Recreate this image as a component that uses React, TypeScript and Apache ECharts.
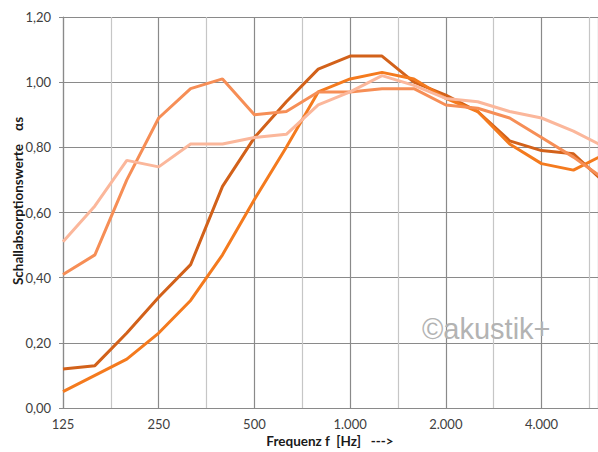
import React, { useEffect, useRef } from "react";
import * as echarts from "echarts";

const frequencies = [125, 160, 200, 250, 315, 400, 500, 630, 800, 1000, 1250, 1600, 2000, 2500, 3150, 4000, 5000, 6300];
const seriesA = [0.12, 0.13, 0.23, 0.34, 0.44, 0.68, 0.83, 0.94, 1.04, 1.08, 1.08, 1.0, 0.96, 0.91, 0.82, 0.79, 0.78, 0.69];
const seriesB = [0.05, 0.1, 0.15, 0.23, 0.33, 0.47, 0.64, 0.8, 0.97, 1.01, 1.03, 1.01, 0.95, 0.91, 0.81, 0.75, 0.73, 0.78];
const seriesC = [0.41, 0.47, 0.7, 0.89, 0.98, 1.01, 0.9, 0.91, 0.97, 0.97, 0.98, 0.98, 0.93, 0.92, 0.89, 0.83, 0.77, 0.7];
const seriesD = [0.51, 0.62, 0.76, 0.74, 0.81, 0.81, 0.83, 0.84, 0.93, 0.97, 1.02, 0.99, 0.95, 0.94, 0.91, 0.89, 0.85, 0.8];
const xTickLabels = ["125", "250", "500", "1.000", "2.000", "4.000"];
const seriesColors = ["#d2611a", "#f47a1e", "#f68e56", "#fbb79b"];

// position on axis: third-octave band index expressed in octaves above 125 Hz
const bandPos = (f: number) => Math.round(3 * Math.log2(f / 125)) / 3;

export default function App() {
  const ref = useRef<HTMLDivElement>(null);
  useEffect(() => {
    if (!ref.current) return;
    const chart = echarts.init(ref.current, undefined, { renderer: "svg" });
    const all = [seriesA, seriesB, seriesC, seriesD];
    chart.setOption({
      animation: false,
      backgroundColor: "#ffffff",
      grid: { left: 63, top: 17, right: 0, bottom: 44 },
      xAxis: {
        type: "value",
        min: 0,
        max: 5.59,
        interval: 0.5,
        axisLine: { show: true, lineStyle: { color: "#8a8a8a", width: 1.2 } },
        axisTick: { show: false },
        axisLabel: {
          margin: 9,
          fontFamily: "Lato",
          fontSize: 13,
          color: "#404040",
          showMaxLabel: false,
          formatter: (v: number) => {
            const k = Math.round(v);
            return Math.abs(v - k) < 1e-6 && xTickLabels[k] !== undefined ? xTickLabels[k] : "";
          },
        },
        splitLine: { show: true, lineStyle: { color: ["#8a8a8a", "#c6c6c6"], width: 1.2 } },
      },
      yAxis: {
        type: "value",
        min: 0,
        max: 1.2,
        interval: 0.2,
        axisLine: { show: true, lineStyle: { color: "#8a8a8a", width: 1.2 } },
        axisTick: { show: true, length: 4, lineStyle: { color: "#8a8a8a" } },
        axisLabel: {
          margin: 12,
          fontFamily: "Lato",
          fontSize: 13,
          color: "#404040",
          formatter: (v: number) => v.toFixed(2).replace(".", ","),
        },
        splitLine: { show: true, lineStyle: { color: "#8a8a8a", width: 1.2 } },
      },
      series: all.map((vals, i) => ({
        type: "line",
        data: frequencies.map((f, j) => [bandPos(f), vals[j]]),
        showSymbol: false,
        symbol: "none",
        clip: true,
        lineStyle: { color: seriesColors[i], width: 3 },
        itemStyle: { color: seriesColors[i] },
        z: 2 + i,
      })),
      graphic: [
        {
          type: "text",
          x: 18,
          y: 201,
          rotation: Math.PI / 2,
          style: {
            text: "Schallabsorptionswerte    αs",
            fontFamily: "Lato",
            fontWeight: "bold",
            fontSize: 13.5,
            fill: "#1a1a1a",
            textAlign: "center",
            textVerticalAlign: "middle",
          },
        },
        {
          type: "text",
          x: 330,
          y: 441,
          style: {
            text: "Frequenz f  [Hz]   --->",
            fontFamily: "Lato",
            fontWeight: "bold",
            fontSize: 13.5,
            fill: "#1a1a1a",
            textAlign: "center",
            textVerticalAlign: "middle",
          },
        },
        {
          type: "text",
          x: 422,
          y: 329,
          z: 10,
          style: {
            text: "©akustik+",
            fontFamily: "Liberation Sans",
            fontSize: 29,
            fill: "#b3b3b3",
            textAlign: "left",
            textVerticalAlign: "middle",
          },
        },
      ],
    });
    return () => chart.dispose();
  }, []);
  return (
    <div
      ref={ref}
      style={{ position: "fixed", left: 0, top: 0, width: 598, height: 452, background: "#fff" }}
    />
  );
}
